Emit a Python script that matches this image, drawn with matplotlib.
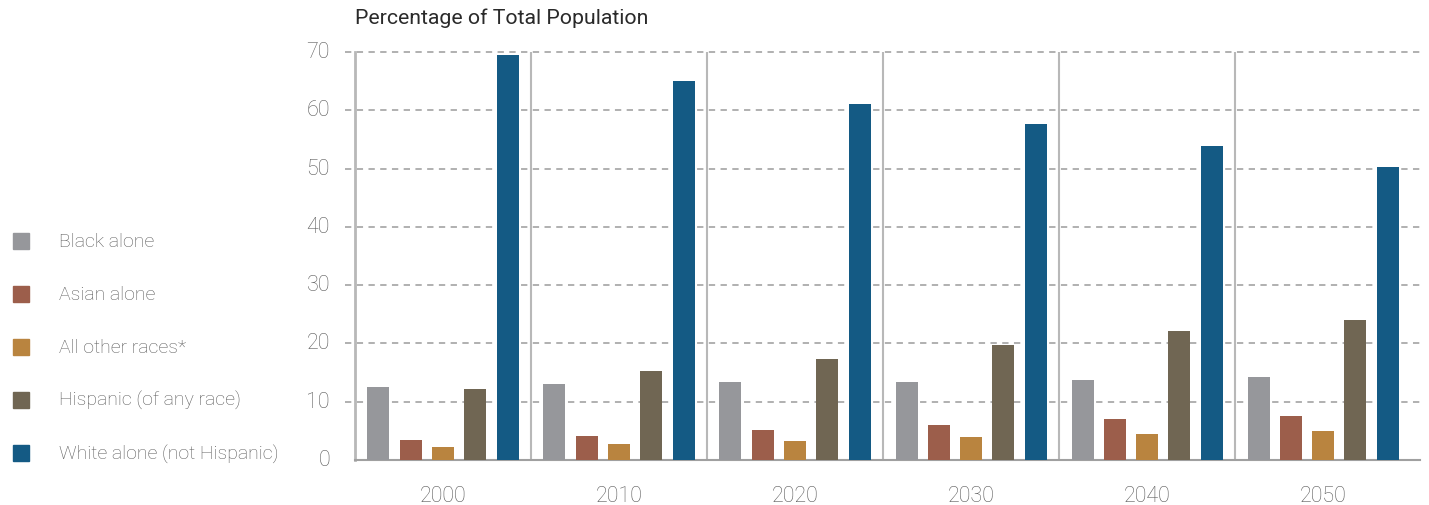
import matplotlib.pyplot as plt
import matplotlib.transforms as mtransforms
from matplotlib.patches import Rectangle

# --- data ---
years = ['2000', '2010', '2020', '2030', '2040', '2050']
groups = ['Black alone', 'Asian alone', 'All other races*',
          'Hispanic (of any race)', 'White alone (not Hispanic)']
black = [12.5, 13.0, 13.3, 13.4, 13.8, 14.2]
asian = [3.5, 4.1, 5.1, 6.0, 7.0, 7.5]
other = [2.3, 2.8, 3.3, 4.0, 4.5, 5.0]
hispanic = [12.2, 15.2, 17.4, 19.7, 22.1, 24.1]
white = [69.5, 65.1, 61.1, 57.6, 53.8, 50.2]
series = [black, asian, other, hispanic, white]
colors = ['#96979b', '#9c5e4b', '#b9843f', '#706653', '#145a84']
yticks = [0, 10, 20, 30, 40, 50, 60, 70]

plt.rcParams['font.family'] = ['Roboto', 'DejaVu Sans']
txt = '#5a5a5a'
LW = 'light'

fig = plt.figure(figsize=(14.29, 5.06), dpi=100)
ax = fig.add_axes([355 / 1429, 45 / 506, 1065 / 1429, 408 / 506])

# bars
step = 0.1835
width = 0.125
for k, (vals, c) in enumerate(zip(series, colors)):
    xs = [i + (k - 2) * step for i in range(len(years))]
    ax.bar(xs, vals, width=width, color=c, zorder=3)

ax.set_xlim(-0.5, 5.55)
ax.set_ylim(0, 70)

# dashed gridlines extending a bit left of the axis
for y in yticks[1:]:
    ax.axhline(y, xmin=-10 / 1065, xmax=1, color='#aaaaaa', lw=1.3,
               ls=(0, (3.5, 3)), clip_on=False, zorder=1)

# group separators
for i in range(1, len(years)):
    ax.axvline(i - 0.5, color='#b8b8b8', lw=1.5, zorder=2)

for s in ['top', 'right']:
    ax.spines[s].set_visible(False)
ax.spines['left'].set_color('#b8b8b8')
ax.spines['left'].set_linewidth(2)
ax.spines['bottom'].set_color('#a0a0a0')
ax.spines['bottom'].set_linewidth(1.5)

ax.set_yticks(yticks)
ax.set_yticklabels([str(v) for v in yticks], fontsize=15.5, color=txt,
                   fontweight=LW)
ax.tick_params(axis='y', length=0, pad=18)
off = mtransforms.ScaledTranslation(0, 3 / 100, fig.dpi_scale_trans)
for lab in ax.get_yticklabels():
    lab.set_transform(lab.get_transform() + off)

ax.set_xticks(range(len(years)))
ax.set_xticklabels(years, fontsize=15.5, color=txt, fontweight=LW)
ax.tick_params(axis='x', length=0, pad=18)

fig.text(355 / 1429, 1 - 18 / 506, 'Percentage of Total Population',
         fontsize=15.3, color='#2a2a2a', va='center', ha='left')

# legend drawn manually on the left
leg_y = [242, 295, 348, 401, 454]
for name, c, y in zip(groups, colors, leg_y):
    fig.patches.append(Rectangle((13 / 1429, 1 - (y + 8) / 506), 16 / 1429, 16 / 506,
                                 transform=fig.transFigure, color=c))
    fig.text(59 / 1429, 1 - y / 506, name, fontsize=14, color=txt,
             va='center', ha='left', fontweight=LW)

fig.savefig('out.png', dpi=100)
